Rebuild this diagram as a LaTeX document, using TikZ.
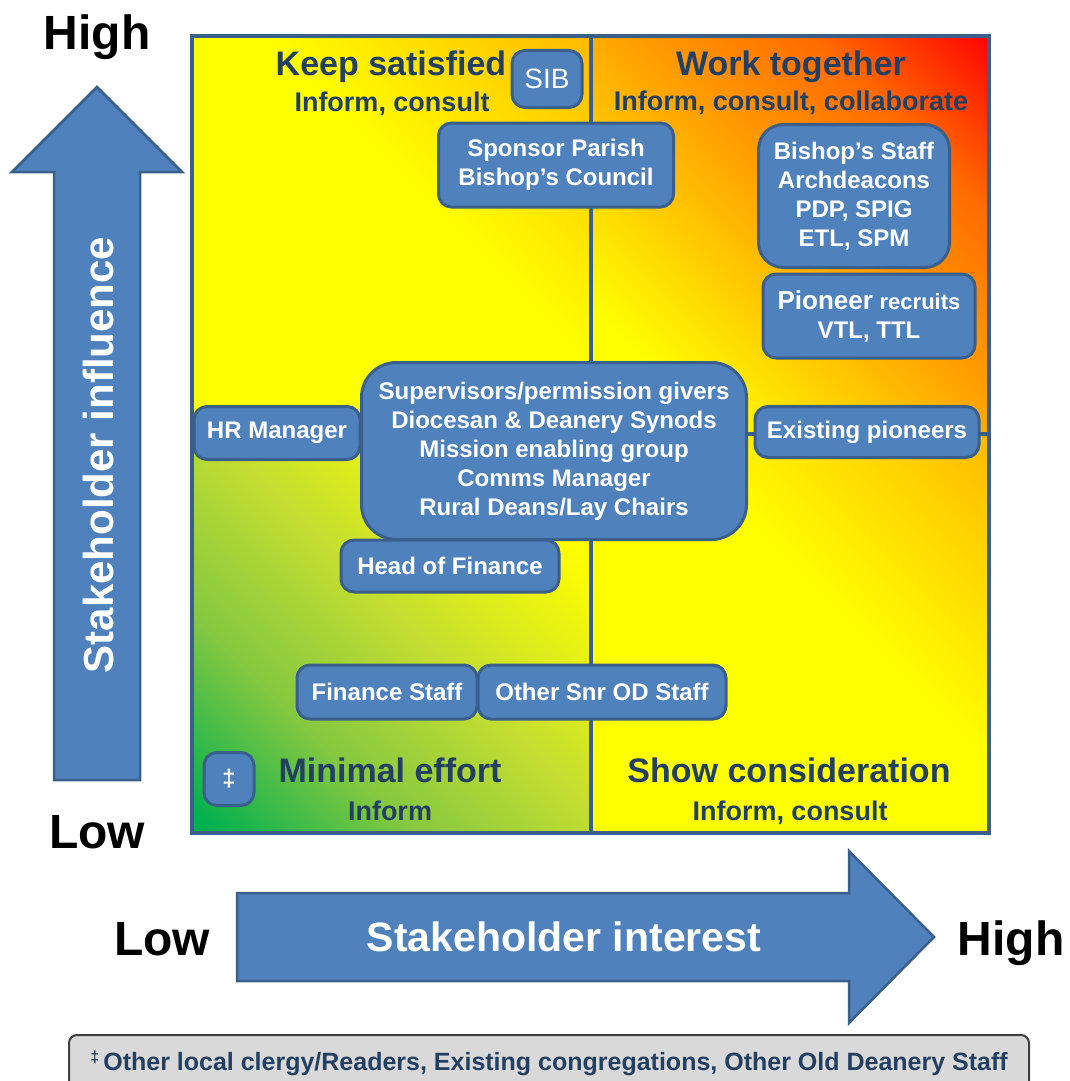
\documentclass[tikz,border=0pt]{standalone}
\usepackage{fontspec}
\setmainfont{Liberation Sans}
\definecolor{boxblue}{HTML}{4F81BD}
\definecolor{boxline}{HTML}{3A5F8B}
\definecolor{navy}{HTML}{233F62}
\definecolor{notegray}{HTML}{D9D9D9}
\definecolor{gold}{HTML}{FFB800}
\definecolor{warmorange}{HTML}{FFA000}
\definecolor{deeporange}{HTML}{FF6A00}
\definecolor{leafgreen}{HTML}{00B050}
\definecolor{midgreen}{HTML}{84C840}
\definecolor{limegreen}{HTML}{C4DE30}
\newcommand{\sizept}[2]{\fontsize{#1}{#2}\selectfont}

% quadrant fills, bottom-left to top-right
\pgfdeclareverticalshading{hotcorner}{100bp}{color(0bp)=(yellow); color(26bp)=(yellow); color(53bp)=(warmorange); color(70bp)=(deeporange); color(86bp)=(red); color(100bp)=(red)}
\pgfdeclareverticalshading{goldcorner}{100bp}{color(0bp)=(yellow); color(56bp)=(yellow); color(86bp)=(gold); color(100bp)=(gold)}
\pgfdeclareverticalshading{greencorner}{100bp}{color(0bp)=(leafgreen); color(16bp)=(leafgreen); color(34bp)=(midgreen); color(52bp)=(limegreen); color(74bp)=(yellow); color(100bp)=(yellow)}

\begin{document}
\begin{tikzpicture}[x=1pt, y=-1pt]
    \tikzstyle{stake} = [rectangle, rounded corners=13pt, draw=boxline, line width=3pt, fill=boxblue, text=white, align=center, inner sep=0pt, font=\bfseries\sizept{24}{29}]
    \tikzstyle{quadtitle} = [text=navy, font=\bfseries\sizept{34}{34}, anchor=base]
    \tikzstyle{quadsub} = [text=navy, font=\bfseries\sizept{27}{27}, anchor=base]
    \tikzstyle{axisend} = [text=black, font=\bfseries\sizept{48}{48}, anchor=base]
    \tikzstyle{bigarrow} = [fill=boxblue, draw=boxline, line width=2.5pt, line join=miter]
    \tikzstyle{divider} = [draw=boxline, line width=4pt]

    \useasboundingbox (0,0) rectangle (1069,1081);

    % the four quadrants
    \shade[shading=goldcorner, shading angle=-45] (192,36) rectangle (591,434);
    \shade[shading=hotcorner, shading angle=-45] (591,36) rectangle (989,434);
    \shade[shading=greencorner, shading angle=-45] (192,434) rectangle (591,833);
    \shade[shading=goldcorner, shading angle=-45] (591,434) rectangle (989,833);

    \coordinate (qtop) at (591,36);
    \coordinate (qbot) at (591,833);
    \coordinate (qleft) at (192,434);
    \coordinate (qright) at (989,434);

    \draw [divider] (192,36) rectangle (989,833);
    \draw [divider] (qtop) -- (qbot);
    \draw [divider] (qleft) -- (qright);

    \node [quadtitle] (ks) at (391,75) {Keep satisfied};
    \node [quadsub] (ksa) at (392,111) {Inform, consult};
    \node [quadtitle] (wt) at (791,75) {Work together};
    \node [quadsub] (wta) at (791,110) {Inform, consult, collaborate};
    \node [quadtitle] (me) at (390,782) {Minimal effort};
    \node [quadsub] (mea) at (390,820) {Inform};
    \node [quadtitle] (sc) at (789,782) {Show consideration};
    \node [quadsub] (sca) at (790,820) {Inform, consult};

    % stakeholders
    \node [stake, minimum width=70pt, minimum height=57pt, font=\sizept{28}{28}] (sib) at (547,79) {SIB};
    \node [stake, minimum width=235pt, minimum height=84pt] (sponsor) at (556,165) {Sponsor Parish\\Bishop's Council};
    \node [stake, rounded corners=25pt, minimum width=191pt, minimum height=143pt] (bstaff) at (854,196) {Bishop's Staff\\Archdeacons\\PDP, SPIG\\ETL, SPM};
    \node [stake, minimum width=212pt, minimum height=84pt] (recruits) at (869,316) {{\sizept{26}{29}Pioneer} {\sizept{22}{29}recruits}\\VTL, TTL};
    \node [stake, rounded corners=35pt, minimum width=385pt, minimum height=177pt] (givers) at (554,451) {Supervisors/permission givers\\Diocesan \& Deanery Synods\\Mission enabling group\\Comms Manager\\Rural Deans/Lay Chairs};
    \node [stake, minimum width=166pt, minimum height=53pt] (hr) at (277,433) {HR Manager};
    \node [stake, minimum width=224pt, minimum height=51pt] (existing) at (867,432) {Existing pioneers};
    \node [stake, minimum width=218pt, minimum height=52pt] (hof) at (450,566) {Head of Finance};
    \node [stake, minimum width=180pt, minimum height=54pt] (fstaff) at (387,692) {Finance Staff};
    \node [stake, minimum width=248pt, minimum height=54pt] (odstaff) at (602,692) {Other Snr OD Staff};
    \node [stake, minimum width=50pt, minimum height=53pt, font=\bfseries\sizept{24}{24}] (others) at (229,779) {‡};

    % axes
    \draw [bigarrow] (54,780) -- (54,172) -- (12,172) -- (97,87) -- (182,172) -- (140,172) -- (140,780) -- cycle;
    \draw [bigarrow] (237,893) -- (849,893) -- (849,851) -- (934,937) -- (849,1023) -- (849,981) -- (237,981) -- cycle;
    \node [text=white, font=\bfseries\sizept{42}{42}, rotate=90] (influence) at (98,455) {Stakeholder influence};
    \node [text=white, font=\bfseries\sizept{41}{41}, anchor=base] (interest) at (564,951) {Stakeholder interest};

    \node [axisend] (inhigh) at (97,50) {High};
    \node [axisend] (inlow) at (97,848) {Low};
    \node [axisend] (itlow) at (162,955) {Low};
    \node [axisend] (ithigh) at (1011,955) {High};

    % footnote
    \node [draw=black!75, line width=2pt, fill=notegray, rounded corners=8pt, minimum width=960pt, minimum height=56pt, text=navy, font=\bfseries\sizept{25}{25}] (note) at (549,1063) {\raisebox{8pt}{\sizept{16}{16}‡}\,Other local clergy/Readers, Existing congregations, Other Old Deanery Staff};
\end{tikzpicture}
\end{document}
